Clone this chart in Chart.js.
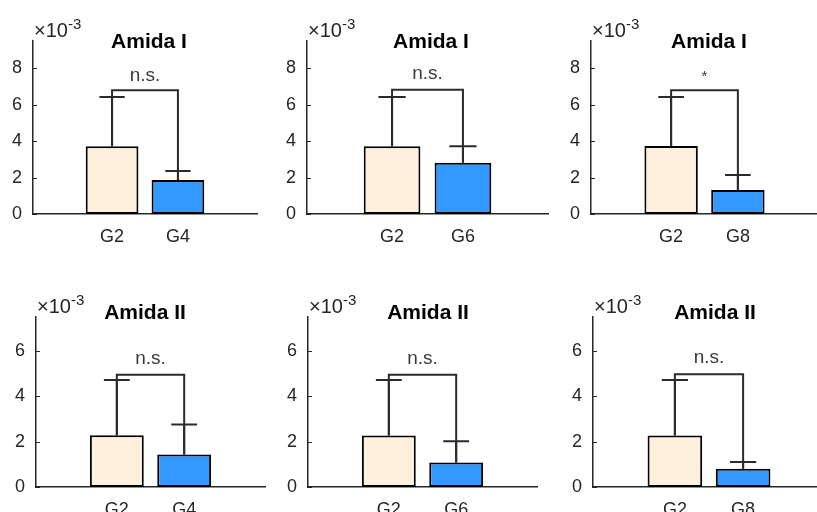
<!DOCTYPE html>
<html>
<head>
<meta charset="utf-8">
<script src="https://cdn.jsdelivr.net/npm/chart.js@4.4.1/dist/chart.umd.min.js"></script>
<style>
  html, body { margin: 0; padding: 0; background: #fff; overflow: hidden; }
  body { width: 817px; height: 512px; position: relative; }
  canvas { position: absolute; }
</style>
</head>
<body>
<script>
// values are in units of 10^-3
const titles = ['Amida I', 'Amida I', 'Amida I', 'Amida II', 'Amida II', 'Amida II'];
const groupLabels = [['G2', 'G4'], ['G2', 'G6'], ['G2', 'G8'], ['G2', 'G4'], ['G2', 'G6'], ['G2', 'G8']];
const meanValues = [[3.72, 1.87], [3.72, 2.82], [3.74, 1.32], [2.28, 1.43], [2.27, 1.08], [2.27, 0.80]];
const errorTops = [[6.42, 2.36], [6.42, 3.72], [6.42, 2.14], [4.72, 2.76], [4.72, 2.02], [4.72, 1.10]];
const bracketHeights = [6.8, 6.82, 6.8, 4.95, 4.95, 4.97];
const sigLabels = ['n.s.', 'n.s.', '*', 'n.s.', 'n.s.', 'n.s.'];
const yMax = [9.5, 9.5, 9.5, 7.5, 7.5, 7.5];
const yTicksTop = [0, 2, 4, 6, 8];
const yTicksBottom = [0, 2, 4, 6];
const exponentText = '-3';

const COLOR_G2 = '#fdf0dc';
const COLOR_GX = '#3399ff';
const AXIS = '#262626';
const LINE = '#2b2b2b';
const FONT = "'Liberation Sans', Arial, Helvetica, sans-serif";

// plot-area boxes in page pixels
const boxes = [
  { left: 33, top: 41, right: 257, bottom: 214, titleX: 149, titleY: 42, sigGap: 9 },
  { left: 307, top: 41, right: 548, bottom: 214, titleX: 431, titleY: 42, sigGap: 11 },
  { left: 591, top: 41, right: 818, bottom: 214, titleX: 709, titleY: 42, sigGap: 9 },
  { left: 36, top: 317, right: 265, bottom: 487, titleX: 145, titleY: 313, sigGap: 11 },
  { left: 308, top: 317, right: 537, bottom: 487, titleX: 428, titleY: 313, sigGap: 11 },
  { left: 593, top: 317, right: 825, bottom: 487, titleX: 715, titleY: 313, sigGap: 11 }
];
const PAD_L = 45, PAD_T = 45, PAD_R = 10, PAD_B = 40;

const annotate = {
  id: 'annotate',
  afterDatasetsDraw(chart, args, opts) {
    const i = opts.index;
    const { ctx, chartArea } = chart;
    const x = chart.scales.x, y = chart.scales.y;
    const box = boxes[i];
    const offX = box.left - PAD_L;
    const offY = box.top - PAD_T;

    ctx.save();
    // inward y ticks
    ctx.strokeStyle = AXIS;
    ctx.lineWidth = 1;
    y.ticks.forEach(t => {
      const py = Math.round(y.getPixelForValue(t.value)) + 0.5;
      ctx.beginPath();
      ctx.moveTo(chartArea.left, py);
      ctx.lineTo(chartArea.left + 4, py);
      ctx.stroke();
    });

    // error bars
    const meta = chart.getDatasetMeta(0);
    ctx.strokeStyle = LINE;
    ctx.lineWidth = 2;
    meanValues[i].forEach((v, k) => {
      const px = x.getPixelForValue(k + 1);
      const capHalf = meta.data[k].width * 0.24;
      const y0 = y.getPixelForValue(v);
      const y1 = y.getPixelForValue(errorTops[i][k]);
      ctx.beginPath();
      ctx.moveTo(px, y0);
      ctx.lineTo(px, y1);
      ctx.moveTo(px - capHalf, y1);
      ctx.lineTo(px + capHalf, y1);
      ctx.stroke();
    });

    // significance bracket
    const xa = x.getPixelForValue(1), xb = x.getPixelForValue(2);
    const yb = y.getPixelForValue(bracketHeights[i]);
    ctx.beginPath();
    ctx.moveTo(xa, y.getPixelForValue(meanValues[i][0]));
    ctx.lineTo(xa, yb);
    ctx.lineTo(xb, yb);
    ctx.lineTo(xb, y.getPixelForValue(meanValues[i][1]));
    ctx.stroke();

    ctx.fillStyle = '#3a3a3a';
    ctx.font = (sigLabels[i] === '*' ? '15px ' : '19px ') + FONT;
    ctx.textAlign = 'center';
    ctx.textBaseline = 'alphabetic';
    ctx.fillText(sigLabels[i], (xa + xb) / 2, yb - box.sigGap);

    // title
    ctx.fillStyle = '#000';
    ctx.font = 'bold 21px ' + FONT;
    ctx.textBaseline = 'middle';
    ctx.fillText(titles[i], box.titleX - offX, box.titleY - offY);

    // exponent marker
    ctx.fillStyle = AXIS;
    ctx.textAlign = 'left';
    ctx.textBaseline = 'alphabetic';
    ctx.font = '20px ' + FONT;
    const bx = chartArea.left + 1, by = chartArea.top - 4;
    ctx.fillText('\u00d710', bx, by);
    const w = ctx.measureText('\u00d710').width;
    ctx.font = '15px ' + FONT;
    ctx.fillText(exponentText, bx + w, by - 8);
    ctx.restore();
  }
};

boxes.forEach((box, i) => {
  const canvas = document.createElement('canvas');
  const W = box.right - box.left + PAD_L + PAD_R;
  const H = box.bottom - box.top + PAD_T + PAD_B;
  canvas.width = W;
  canvas.height = H;
  canvas.style.left = (box.left - PAD_L) + 'px';
  canvas.style.top = (box.top - PAD_T) + 'px';
  document.body.appendChild(canvas);

  const yTicks = i < 3 ? yTicksTop : yTicksBottom;

  new Chart(canvas, {
    type: 'bar',
    data: {
      datasets: [{
        data: meanValues[i].map((v, k) => ({ x: k + 1, y: v })),
        backgroundColor: [COLOR_G2, COLOR_GX],
        borderColor: '#000',
        borderWidth: 2,
        borderSkipped: false,
        barPercentage: 0.8,
        categoryPercentage: 1.0
      }]
    },
    options: {
      responsive: false,
      animation: false,
      layout: { padding: { top: PAD_T, right: PAD_R, left: 0, bottom: 0 } },
      plugins: {
        legend: { display: false },
        tooltip: { enabled: false },
        annotate: { index: i }
      },
      scales: {
        x: {
          type: 'linear',
          min: -0.2,
          max: 3.2,
          offset: false,
          afterFit: s => { s.height = PAD_B; },
          afterBuildTicks: s => { s.ticks = [{ value: 1 }, { value: 2 }]; },
          grid: { display: false, drawTicks: false, offset: false },
          border: { display: true, color: AXIS, width: 1.5 },
          ticks: {
            color: AXIS,
            padding: 12,
            font: { family: FONT, size: 18 },
            callback: v => groupLabels[i][v - 1]
          }
        },
        y: {
          min: 0,
          max: yMax[i],
          afterFit: s => { s.width = PAD_L; },
          afterBuildTicks: s => { s.ticks = yTicks.map(v => ({ value: v })); },
          grid: { display: false, drawTicks: false },
          border: { display: true, color: AXIS, width: 1.5 },
          ticks: {
            color: AXIS,
            padding: 11,
            font: { family: FONT, size: 18 }
          }
        }
      }
    },
    plugins: [annotate]
  });
});
</script>
</body>
</html>
